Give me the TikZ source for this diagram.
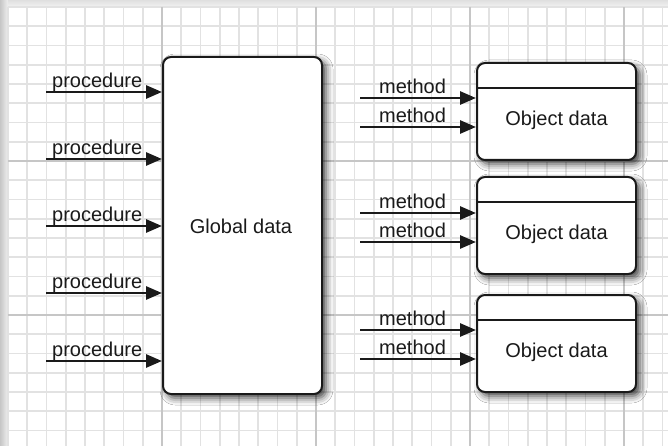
\documentclass[tikz,border=0pt]{standalone}
\usepackage{fontspec}
\setmainfont{Liberation Sans}
\usetikzlibrary{arrows.meta,shadows.blur}
\definecolor{minorgrid}{HTML}{E2E2E2}
\definecolor{majorgrid}{HTML}{C6C6C6}
\definecolor{boxline}{HTML}{1A1A1A}
\tikzset{
  databox/.style={draw=boxline, line width=2pt, fill=white, rounded corners=8pt,
    inner sep=0pt, minimum width=159pt,
    blur shadow={shadow xshift=4pt, shadow yshift=-4pt, shadow blur radius=7pt, shadow opacity=75}},
  lbl/.style={inner sep=0pt, font=\fontsize{20}{24}\selectfont, text=boxline},
  callarrow/.style={draw=boxline, line width=2.8pt, -{Triangle[length=16pt,width=13pt]}},
  divider/.style={draw=boxline, line width=1.6pt},
}
\begin{document}
\begin{tikzpicture}[x=1pt,y=-1pt]
\useasboundingbox (0,0) rectangle (668,446);
% page background and edge shading
\fill[gray!12] (0,0) rectangle (668,446);
\shade[left color=gray!45, right color=gray!12] (0,0) rectangle (8,446);
\shade[top color=gray!25, bottom color=gray!10] (8,0) rectangle (668,7);
\fill[white] (8,7) rectangle (668,446);
% grid
\foreach \i in {0,...,34} {
  \draw[minorgrid, line width=1.6pt] ({8+19.25*\i},7) -- ({8+19.25*\i},446);
}
\foreach \j in {0,...,22} {
  \draw[minorgrid, line width=1.6pt] (8,{7+19.25*\j}) -- (668,{7+19.25*\j});
}
\foreach \i in {8,16,24,32} {
  \draw[majorgrid, line width=1.8pt] ({8+19.25*\i},7) -- ({8+19.25*\i},446);
}
\foreach \j in {8,16} {
  \draw[majorgrid, line width=1.8pt] (8,{7+19.25*\j}) -- (668,{7+19.25*\j});
}
% global data box
\node[databox, minimum height=337pt] (g) at (242.5,225.5) {};
\node[lbl] (gt) at (241,226) {Global data};
% object boxes
\foreach \k/\t in {1/63,2/177,3/295} {
  \node[databox, minimum height=97pt] (o\k) at (556.5,{\t+48.5}) {};
  \draw[divider] (o\k.west |- 0,{\t+25}) -- (o\k.east |- 0,{\t+25});
  \node[lbl] (ot\k) at (556.5,{\t+57}) {Object data};
}
% procedure arrows
\foreach \n/\y in {1/92,2/159,3/226,4/293,5/361} {
  \coordinate (p\n) at (46,\y);
  \draw[callarrow] (p\n) -- (g.west |- p\n);
  \node[lbl, anchor=base west] (pl\n) at (52,{\y-4.5}) {procedure};
}
% method arrows
\foreach \n/\y/\b in {1/98/1,2/127/1,3/213/2,4/242/2,5/330/3,6/359/3} {
  \coordinate (m\n) at (360,\y);
  \draw[callarrow] (m\n) -- (o\b.west |- m\n);
  \node[lbl, anchor=base west] (ml\n) at (379,{\y-4.5}) {method};
}
\end{tikzpicture}
\end{document}
